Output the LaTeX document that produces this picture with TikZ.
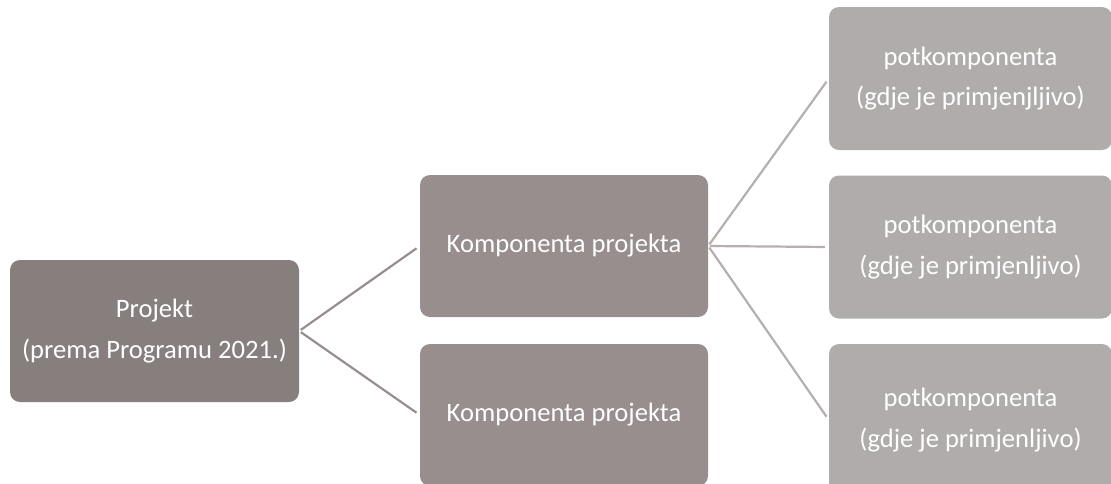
\documentclass[tikz,border=0pt]{standalone}
\usepackage{fontspec}
\setmainfont{Carlito}
\definecolor{cproj}{HTML}{877F7E}
\definecolor{ckomp}{HTML}{978E8D}
\definecolor{csub}{HTML}{B1ACAC}
\definecolor{lnleft}{HTML}{978E8D}
\definecolor{lnright}{HTML}{B5B0AF}
\tikzset{
  box/.style={rectangle, rounded corners=10pt, draw=none, text=white, align=center,
    inner sep=0pt, font=\fontsize{26.6}{40.5}\selectfont},
  projbox/.style={box, fill=cproj, minimum width=289pt, minimum height=142pt},
  kompbox/.style={box, fill=ckomp, minimum width=288pt, minimum height=142pt},
  subbox/.style={box, fill=csub, minimum width=283pt, minimum height=143pt},
  conn/.style={line width=2.2pt, shorten <=2pt, shorten >=4pt},
}
\begin{document}
\begin{tikzpicture}[x=1pt, y=-1pt]
\useasboundingbox (0,0) rectangle (1111,483);
\node[projbox] (proj) at (154.5,331) {Projekt\\(prema Programu 2021.)};
\node[kompbox] (k1) at (564,246) {Komponenta projekta};
\node[kompbox] (k2) at (564,415) {Komponenta projekta};
\node[subbox] (s1) at (970.5,78.5) {potkomponenta\\(gdje je primjenjljivo)};
\node[subbox] (s2) at (970.5,247) {potkomponenta\\(gdje je primjenljivo)};
\node[subbox, minimum height=152pt] (s3) at (970.5,420) {potkomponenta\\(gdje je primjenljivo)};
\draw[conn, lnleft] (proj.east) -- (k1.west);
\draw[conn, lnleft] (proj.east) -- (k2.west);
\draw[conn, lnright] (k1.east) -- (s1.west);
\draw[conn, lnright] (k1.east) -- (s2.west);
\draw[conn, lnright] (k1.east) -- (s3.west);
\end{tikzpicture}
\end{document}
